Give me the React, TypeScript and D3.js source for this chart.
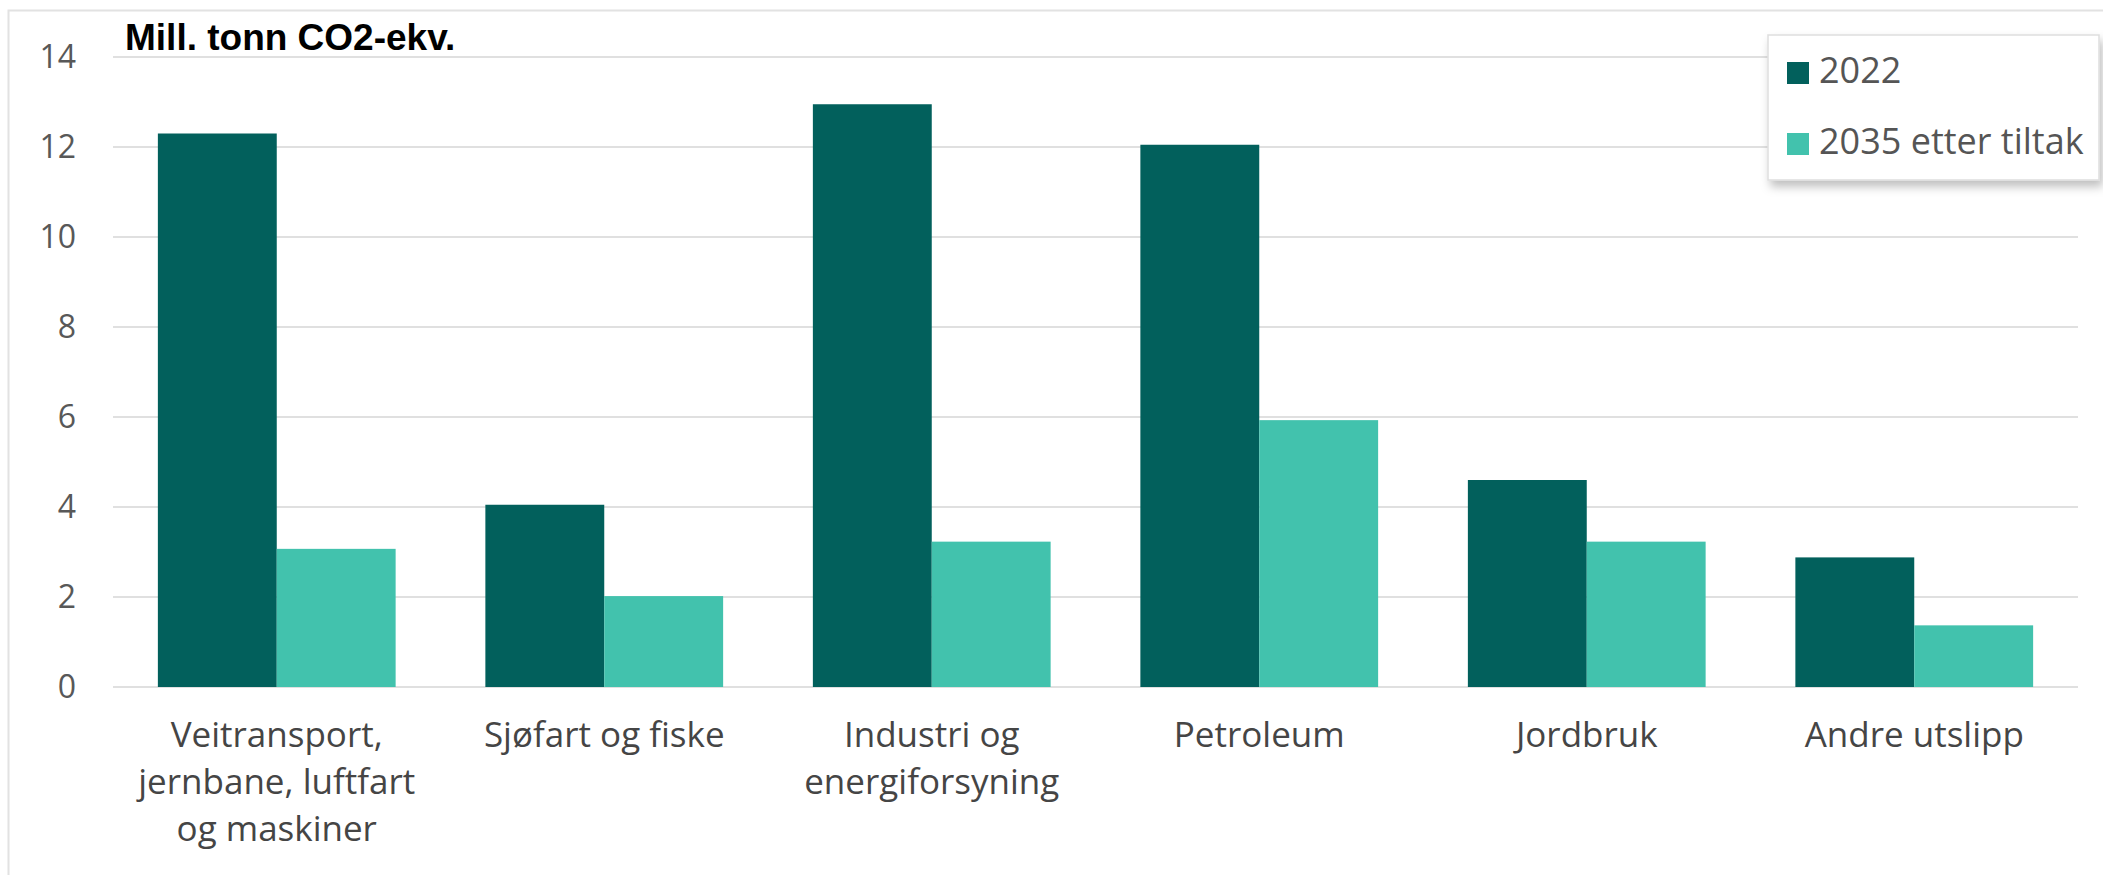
import React, { useEffect, useRef } from "react";
import * as d3 from "d3";

const categories = [
  "Veitransport,\njernbane, luftfart\nog maskiner",
  "Sjøfart og fiske",
  "Industri og\nenergiforsyning",
  "Petroleum",
  "Jordbruk",
  "Andre utslipp",
];
const series = ["2022", "2035 etter tiltak"];
const values2022 = [12.3, 4.05, 12.95, 12.05, 4.6, 2.88];
const values2035 = [3.07, 2.02, 3.23, 5.93, 3.23, 1.37];
const yTicks = [0, 2, 4, 6, 8, 10, 12, 14];

const W = 2103;
const H = 875;
const PLOT = { left: 113, right: 2078, top: 57, bottom: 687 };
const COLORS = ["#02605c", "#42c2ad"];
const SANS = "'Open Sans', 'Noto Sans', sans-serif";

export default function App() {
  const svgRef = useRef<SVGSVGElement>(null);

  useEffect(() => {
    document.body.style.margin = "0";
    const svg = svgRef.current;
    if (!svg) return;
    const root = d3.select(svg);
    root.selectAll("*").remove();

    // outer frame
    root
      .append("rect")
      .attr("x", 8.5)
      .attr("y", 10.5)
      .attr("width", W + 20)
      .attr("height", H + 20)
      .attr("fill", "none")
      .attr("stroke", "#e2e2e2")
      .attr("stroke-width", 2);

    const x = d3
      .scaleBand<string>()
      .domain(categories)
      .range([PLOT.left, PLOT.right])
      .paddingInner(0.274)
      .paddingOuter(0.137);
    const xInner = d3.scaleBand<string>().domain(series).range([0, x.bandwidth()]);
    const y = d3.scaleLinear().domain([0, 14]).range([PLOT.bottom, PLOT.top]);

    // gridlines
    root
      .append("g")
      .selectAll("line")
      .data(yTicks)
      .enter()
      .append("line")
      .attr("x1", PLOT.left)
      .attr("x2", PLOT.right)
      .attr("y1", (d) => y(d))
      .attr("y2", (d) => y(d))
      .attr("stroke", "#e0e0e0")
      .attr("stroke-width", 2);

    // y labels
    root
      .append("g")
      .selectAll("text")
      .data(yTicks)
      .enter()
      .append("text")
      .attr("x", 76)
      .attr("y", (d) => y(d))
      .attr("dy", "0.35em")
      .attr("text-anchor", "end")
      .attr("font-family", SANS)
      .attr("font-size", 32)
      .attr("fill", "#585858")
      .text((d) => String(d));

    // bars
    const rows = categories.map((c, i) => ({ c, vals: [values2022[i], values2035[i]] }));
    const groups = root
      .append("g")
      .selectAll("g")
      .data(rows)
      .enter()
      .append("g")
      .attr("transform", (d) => `translate(${x(d.c)},0)`);
    groups
      .selectAll("rect")
      .data((d) => d.vals.map((v, j) => ({ s: series[j], v, j })))
      .enter()
      .append("rect")
      .attr("x", (d) => xInner(d.s)!)
      .attr("width", xInner.bandwidth())
      .attr("y", (d) => y(d.v))
      .attr("height", (d) => y(0) - y(d.v))
      .attr("fill", (d) => COLORS[d.j]);

    // x labels
    const labels = root
      .append("g")
      .selectAll("text")
      .data(categories)
      .enter()
      .append("text")
      .attr("x", (d) => x(d)! + x.bandwidth() / 2)
      .attr("y", 747)
      .attr("text-anchor", "middle")
      .attr("font-family", SANS)
      .attr("font-size", 35)
      .attr("fill", "#454545");
    labels.each(function (d) {
      const t = d3.select(this);
      d.split("\n").forEach((line, i) => {
        t.append("tspan")
          .attr("x", x(d)! + x.bandwidth() / 2)
          .attr("dy", i === 0 ? 0 : 47)
          .text(line);
      });
    });

    // title
    root
      .append("text")
      .attr("x", 125)
      .attr("y", 50)
      .attr("font-family", "'Liberation Sans', Arial, sans-serif")
      .attr("font-weight", "bold")
      .attr("font-size", 37)
      .attr("fill", "#000")
      .text("Mill. tonn CO2-ekv.");

    // legend
    const defs = root.append("defs");
    const f = defs.append("filter").attr("id", "shadow").attr("x", "-10%").attr("y", "-10%").attr("width", "130%").attr("height", "140%");
    f.append("feDropShadow")
      .attr("dx", 3)
      .attr("dy", 6)
      .attr("stdDeviation", 5)
      .attr("flood-color", "#000")
      .attr("flood-opacity", 0.25);

    const lg = root.append("g").attr("transform", "translate(1768,35)");
    lg.append("rect")
      .attr("width", 331)
      .attr("height", 145)
      .attr("fill", "#fff")
      .attr("stroke", "#dedede")
      .attr("stroke-width", 1.5)
      .attr("filter", "url(#shadow)");
    series.forEach((s, i) => {
      const yy = 27 + i * 71;
      lg.append("rect")
        .attr("x", 19)
        .attr("y", yy)
        .attr("width", 22)
        .attr("height", 22)
        .attr("fill", COLORS[i]);
      lg.append("text")
        .attr("x", 51)
        .attr("y", yy + 21)
        .attr("font-family", SANS)
        .attr("font-size", 36)
        .attr("fill", "#555")
        .text(s);
    });
  }, []);

  return <svg ref={svgRef} width={W} height={H} style={{ display: "block", background: "#fff" }} />;
}
